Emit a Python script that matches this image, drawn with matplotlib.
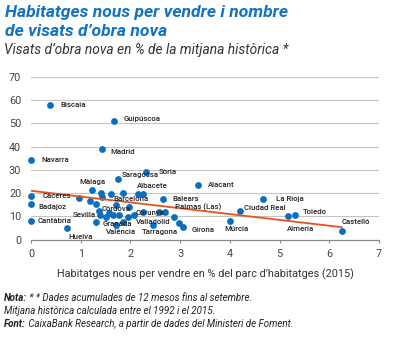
import matplotlib
matplotlib.use('Agg')
import matplotlib.pyplot as plt

plt.rcParams['font.family'] = ['Roboto', 'DejaVu Sans']

# provincies amb etiqueta
names = ['Biscaia', 'Guipúscoa', 'Madrid', 'Navarra', 'Saragossa', 'Sòria', 'Alacant',
         'Màlaga', 'Albacete', 'Càceres', 'Badajoz', 'Cantàbria', 'Huelva', 'Sevilla',
         'Barcelona', 'Còrdova', 'Granada', 'València', 'Corunya', 'Valladolid', 'Tarragona',
         'Balears', 'Palmas (Las)', 'Girona', 'Múrcia', 'Ciudad Real', 'La Rioja', 'Toledo',
         'Almeria', 'Castelló']
stock = [0.39, 1.66, 1.43, 0.0, 1.75, 2.32, 3.36,
         1.23, 2.25, 0.0, 0.0, 0.0, 0.73, 1.31,
         1.85, 1.71, 1.86, 1.71, 2.25, 2.08, 2.46,
         2.65, 2.69, 3.06, 4.0, 4.21, 4.67, 5.31,
         5.16, 6.25]
visats = [58.0, 51.0, 39.1, 34.1, 25.9, 29.0, 23.6,
          21.4, 19.8, 18.7, 15.4, 8.1, 5.0, 7.7,
          20.2, 14.9, 7.7, 6.3, 12.0, 10.6, 6.3,
          17.3, 11.9, 5.5, 8.0, 12.3, 17.5, 10.6,
          10.3, 3.8]

# resta de provincies, sense etiqueta
stock_other = [0.97, 1.18, 1.40, 1.43, 1.31, 1.36, 1.38, 1.50, 1.61, 1.65,
               1.77, 1.95, 1.97, 2.15, 2.58, 2.88, 2.98, 1.56]
visats_other = [17.9, 16.7, 20.2, 18.2, 15.3, 12.4, 10.6, 9.8, 19.6, 10.6,
                10.6, 9.8, 13.9, 19.6, 12.0, 9.8, 7.0, 11.5]

# recta de tendencia
trend_x = [0.0, 6.25]
trend_y = [21.0, 5.3]

# desplaçament de cada etiqueta respecte del punt (px)
offsets = {
    'Biscaia': (9.5, 0), 'Guipúscoa': (10, 2.5), 'Madrid': (8.5, -3), 'Navarra': (10, 0),
    'Saragossa': (3.5, 4.5), 'Sòria': (12, 0), 'Alacant': (10, 0), 'Màlaga': (-12.5, 8),
    'Albacete': (-5.5, 8), 'Càceres': (12, 0), 'Badajoz': (7, -3), 'Cantàbria': (7, 0),
    'Huelva': (1.5, -9), 'Sevilla': (-23.5, 7), 'Barcelona': (-9.5, -6.7),
    'Còrdova': (-14.5, -4), 'Granada': (-21, -2.3), 'València': (-10, -7),
    'Corunya': (-7.5, -1), 'Valladolid': (2, -6.7), 'Tarragona': (-11, -7),
    'Balears': (9.5, 0), 'Palmas (Las)': (10.5, 4.5), 'Girona': (8, -3),
    'Múrcia': (-5, -8), 'Ciudad Real': (3.5, 3), 'La Rioja': (12.5, 0),
    'Toledo': (7.5, 3), 'Almeria': (-1, -13.5), 'Castelló': (-0.5, 9),
}

notes = [('Nota:', ' * * Dades acumulades de 12 mesos fins al setembre.'),
         ('', 'Mitjana històrica calculada entre el 1992 i el 2015.'),
         ('Font:', ' CaixaBank Research, a partir de dades del Ministeri de Foment.')]

W, H = 393, 338
blue = '#0a6fbf'
fig = plt.figure(figsize=(W / 100, H / 100), dpi=100)
ax = fig.add_axes([31 / W, (H - 239.5) / H, 348 / W, 162.5 / H])

ax.set_xlim(0, 7)
ax.set_ylim(0, 70)
ax.set_yticks(range(0, 71, 10))
ax.set_xticks(range(0, 8))
for v in range(10, 71, 10):
    ax.axhline(v, color='#c4c4c4', lw=0.8, zorder=0)
for s in ['top', 'right', 'left']:
    ax.spines[s].set_visible(False)
ax.spines['bottom'].set_color('#8a8a8a')
ax.spines['bottom'].set_linewidth(0.9)
ax.tick_params(axis='y', length=0, pad=7, labelsize=7.8, labelcolor='#444444')
ax.tick_params(axis='x', length=2.5, width=0.8, color='#8a8a8a', pad=4,
               labelsize=7.8, labelcolor='#444444')

ax.scatter(stock_other, visats_other, s=24, color=blue, zorder=3, clip_on=False, linewidths=0)
ax.scatter(stock, visats, s=24, color=blue, zorder=3, clip_on=False, linewidths=0)
ax.plot(trend_x, trend_y, color='#e4531f', lw=1.3, zorder=4)

for n, x, y in zip(names, stock, visats):
    dx, dy = offsets[n]
    ax.annotate(n, (x, y), xytext=(dx * 0.72, dy * 0.72), textcoords='offset points',
                ha='left', va='center', fontsize=5.6, fontweight='medium',
                color='#222222', zorder=5)

ax.set_xlabel("Habitatges nous per vendre en % del parc d’habitatges (2015)",
              fontsize=7.8, color='#333333', labelpad=7)

fig.text(5 / W, 1 - 13 / H, 'Habitatges nous per vendre i nombre', fontsize=12.6,
         fontweight='bold', fontstyle='italic', color='#1273c2', va='center')
fig.text(5 / W, 1 - 32 / H, 'de visats d’obra nova', fontsize=12.6,
         fontweight='bold', fontstyle='italic', color='#1273c2', va='center')
fig.text(4 / W, 1 - 50 / H, 'Visats d’obra nova en % de la mitjana històrica *',
         fontsize=9.9, fontstyle='italic', color='#333333', va='center')

renderer = fig.canvas.get_renderer()
for (bold, rest), yy in zip(notes, [298, 311, 324]):
    x0 = 4 / W
    if bold:
        tb = fig.text(x0, 1 - yy / H, bold, fontsize=7.0, fontweight='bold',
                      fontstyle='italic', color='#222222', va='center')
        x0 += tb.get_window_extent(renderer).width / W
    fig.text(x0, 1 - yy / H, rest, fontsize=7.0, fontstyle='italic',
             color='#222222', va='center')

fig.savefig('out.png', dpi=100)
